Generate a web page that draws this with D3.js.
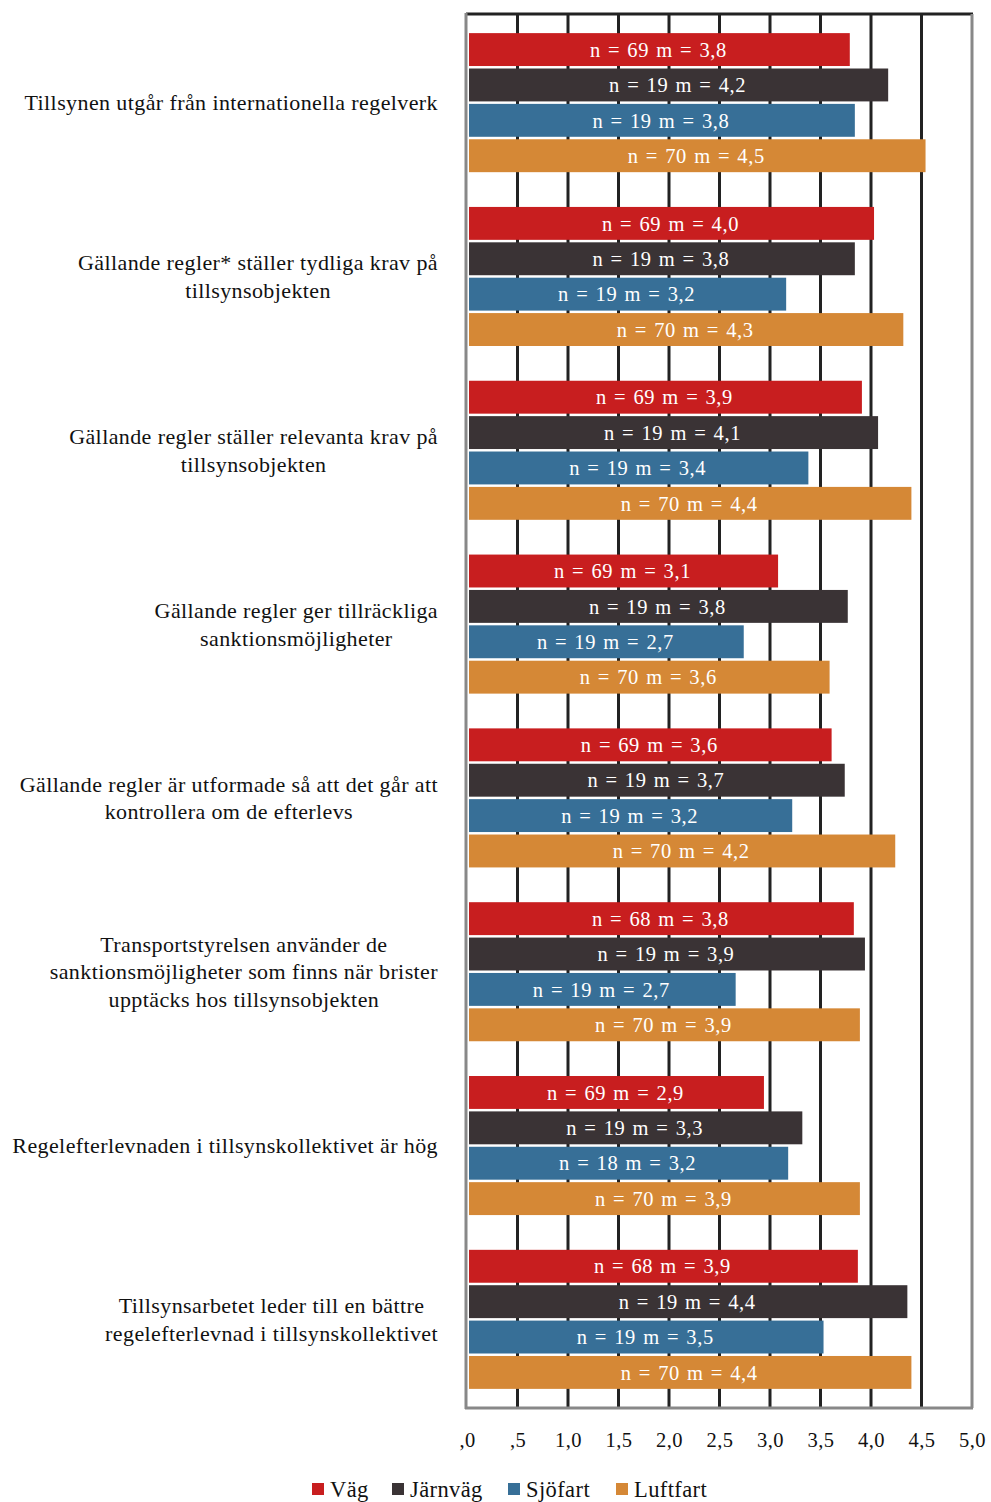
<!DOCTYPE html>
<html><head><meta charset="utf-8">
<script src="https://cdn.jsdelivr.net/npm/d3@7"></script>
<style>body{margin:0;background:#fff}svg{display:block}</style>
</head><body>
<script>
const categories = [
  "Tillsynen utgår från internationella regelverk",
  "Gällande regler* ställer tydliga krav på\ntillsynsobjekten",
  "Gällande regler ställer relevanta krav på\ntillsynsobjekten",
  "Gällande regler ger tillräckliga\nsanktionsmöjligheter",
  "Gällande regler är utformade så att det går att\nkontrollera om de efterlevs",
  "Transportstyrelsen använder de\nsanktionsmöjligheter som finns när brister\nupptäcks hos tillsynsobjekten",
  "Regelefterlevnaden i tillsynskollektivet är hög",
  "Tillsynsarbetet leder till en bättre\nregelefterlevnad i tillsynskollektivet"
];
const series = ["Väg", "Järnväg", "Sjöfart", "Luftfart"];
const colors = ["#C81E1F", "#3A3335", "#376F97", "#D58836"];
const vagM      = [3.79, 4.03, 3.91, 3.08, 3.61, 3.83, 2.94, 3.87];
const jarnvagM  = [4.17, 3.84, 4.07, 3.77, 3.74, 3.94, 3.32, 4.36];
const sjofartM  = [3.84, 3.16, 3.38, 2.74, 3.22, 2.66, 3.18, 3.53];
const luftfartM = [4.54, 4.32, 4.40, 3.59, 4.24, 3.89, 3.89, 4.40];
const vagN      = [69, 69, 69, 69, 69, 68, 69, 68];
const jarnvagN  = [19, 19, 19, 19, 19, 19, 19, 19];
const sjofartN  = [19, 19, 19, 19, 19, 19, 18, 19];
const luftfartN = [70, 70, 70, 70, 70, 70, 70, 70];
const tickValues = [0, 0.5, 1, 1.5, 2, 2.5, 3, 3.5, 4, 4.5, 5];
const tickLabels = [",0", ",5", "1,0", "1,5", "2,0", "2,5", "3,0", "3,5", "4,0", "4,5", "5,0"];

const mVals = [vagM, jarnvagM, sjofartM, luftfartM];
const nVals = [vagN, jarnvagN, sjofartN, luftfartN];

const W = 991, H = 1502;
const FONT = "'Liberation Serif', 'Times New Roman', serif";
const L = 467, R = 972, T = 14, B = 1408;

const svg = d3.select("body").append("svg").attr("width", W).attr("height", H)
  .style("font-family", FONT);

const x = d3.scaleLinear().domain([0, 5]).range([L, R]);
const y0 = d3.scaleBand().domain(categories).range([T, B]).paddingInner(0.2).paddingOuter(0.11);
const y1 = d3.scaleBand().domain(series).range([0, y0.bandwidth()]).paddingInner(0.07);

// gridlines
svg.append("g").selectAll("line").data(tickValues.filter(v => v > 0 && v < 5)).join("line")
  .attr("x1", d => x(d)).attr("x2", d => x(d)).attr("y1", T).attr("y2", B)
  .attr("stroke", "#222").attr("stroke-width", 3);

// bars
const rows = [];
categories.forEach((c, i) => series.forEach((s, j) => rows.push({c, s, j, m: mVals[j][i], n: nVals[j][i]})));
const fmt = d3.format(".1f");
const g = svg.append("g");
g.selectAll("rect").data(rows).join("rect")
  .attr("x", x(0) + 2).attr("y", d => y0(d.c) + y1(d.s))
  .attr("width", d => x(d.m) - x(0) - 2).attr("height", y1.bandwidth())
  .attr("fill", d => colors[d.j]);
g.selectAll("text").data(rows).join("text")
  .attr("x", d => (x(0) + x(d.m)) / 2).attr("y", d => y0(d.c) + y1(d.s) + y1.bandwidth() / 2)
  .attr("dy", "0.35em").attr("text-anchor", "middle").attr("fill", "#fff")
  .attr("font-size", 20.5).attr("letter-spacing", 0.6).attr("word-spacing", 1.5)
  .text(d => `n = ${d.n} m = ${fmt(d.m).replace(".", ",")}`);

// frame
svg.append("line").attr("x1", L - 1).attr("x2", R + 1).attr("y1", T).attr("y2", T).attr("stroke", "#222").attr("stroke-width", 3);
svg.append("line").attr("x1", R).attr("x2", R).attr("y1", T).attr("y2", B).attr("stroke", "#888").attr("stroke-width", 3);
svg.append("line").attr("x1", L - 1).attr("x2", L - 1).attr("y1", T - 1).attr("y2", B + 1).attr("stroke", "#888").attr("stroke-width", 3);
svg.append("line").attr("x1", L - 2).attr("x2", R + 1).attr("y1", B).attr("y2", B).attr("stroke", "#888").attr("stroke-width", 3);

// x axis
const xAxis = d3.axisBottom(x).tickValues(tickValues).tickSize(0).tickPadding(0)
  .tickFormat((d, i) => tickLabels[i]);
const ax = svg.append("g").attr("transform", `translate(0, ${B + 24})`).call(xAxis);
ax.select(".domain").remove();
ax.selectAll("text").attr("font-size", 20.5).attr("font-family", FONT).attr("fill", "#111")
  .attr("letter-spacing", 0.4);

// category labels
const labG = svg.append("g");
categories.forEach(c => {
  const lines = c.split("\n");
  const t = labG.append("text").attr("font-size", 22).attr("fill", "#111").attr("text-anchor", "middle")
    .attr("letter-spacing", 0.4);
  const lh = 27.5;
  const cy = y0(c) + y0.bandwidth() / 2;
  lines.forEach((ln, k) => {
    t.append("tspan").attr("y", cy + (k - (lines.length - 1) / 2) * lh).attr("dy", "0.35em").text(ln);
  });
  let maxW = 0;
  t.selectAll("tspan").each(function () { maxW = Math.max(maxW, this.getComputedTextLength()); });
  t.selectAll("tspan").attr("x", 438 - maxW / 2);
});

// legend
const legX = [312, 392, 508, 616];
const leg = svg.append("g");
series.forEach((s, j) => {
  leg.append("rect").attr("x", legX[j]).attr("y", 1483).attr("width", 12).attr("height", 12).attr("fill", colors[j]);
  leg.append("text").attr("x", legX[j] + 18).attr("y", 1489).attr("dy", "0.35em")
    .attr("font-size", 22.5).attr("letter-spacing", 0.4).attr("fill", "#111").text(s);
});
</script>
</body></html>
